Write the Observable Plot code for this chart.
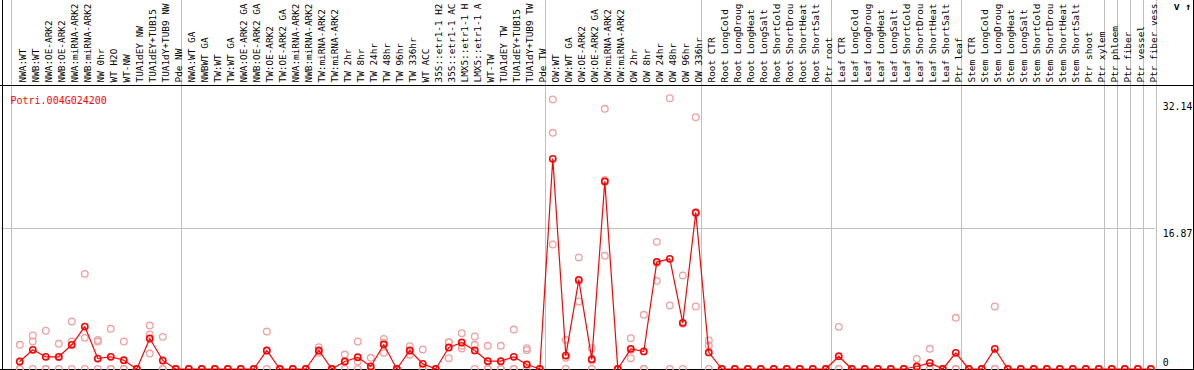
<!DOCTYPE html>
<html>
<head>
<meta charset="utf-8">
<script src="https://cdn.jsdelivr.net/npm/d3@7"></script>
<script src="https://cdn.jsdelivr.net/npm/@observablehq/plot@0.6"></script>
<style>
  html, body { margin: 0; padding: 0; background: #fff; }
  #chart svg { display: block; }
</style>
</head>
<body>
<div id="chart"></div>
<script>
// ---- data ----
const geneId = "Potri.004G024200";

// sample labels as displayed (cut to 14 characters in the reference)
const sampleLabels = [
  "NWA:WT", "NWB:WT", "NWA:OE-ARK2", "NWB:OE-ARK2", "NWA:miRNA-ARK2", "NWB:miRNA-ARK2",
  "NW 0hr", "WT H2O", "WT-NW", "TUA1dEY NW", "TUA1dEY+TUB15", "TUA1dY+TUB9 NW", "Pde NW",
  "NWA:WT GA", "NWBWT GA", "TW:WT", "TW:WT GA", "NWA:OE-ARK2 GA", "NWB:OE-ARK2 GA",
  "TW:OE-ARK2", "TW:OE-ARK2 GA", "NWA:miRNA-ARK2", "NWB:miRNA-ARK2", "TW:miRNA-ARK2",
  "TW:miRNA-ARK2", "TW 2hr", "TW 8hr", "TW 24hr", "TW 48hr", "TW 96hr", "TW 336hr", "WT ACC",
  "35S::etr1-1 H2", "35S::etr1-1 AC", "LMX5::etr1-1 H", "LMX5::etr1-1 A", "WT-TW",
  "TUA1dEY TW", "TUA1dEY+TUB15", "TUA1dY+TUB9 TW", "Pde TW",
  "OW:WT", "OW:WT GA", "OW:OE-ARK2", "OW:OE-ARK2 GA", "OW:miRNA-ARK2", "OW:miRNA-ARK2",
  "OW 2hr", "OW 8hr", "OW 24hr", "OW 48hr", "OW 96hr", "OW 336hr",
  "Root CTR", "Root LongCold", "Root LongDroug", "Root LongHeat", "Root LongSalt",
  "Root ShortCold", "Root ShortDrou", "Root ShortHeat", "Root ShortSalt", "Ptr root",
  "Leaf CTR", "Leaf LongCold", "Leaf LongDroug", "Leaf LongHeat", "Leaf LongSalt",
  "Leaf ShortCold", "Leaf ShortDrou", "Leaf ShortHeat", "Leaf ShortSalt", "Ptr leaf",
  "Stem CTR", "Stem LongCold", "Stem LongDroug", "Stem LongHeat", "Stem LongSalt",
  "Stem ShortCold", "Stem ShortDrou", "Stem ShortHeat", "Stem ShortSalt", "Ptr shoot",
  "Ptr xylem", "Ptr phloem", "Ptr fiber", "Ptr vessel", "Ptr fiber vess"
];

// mean expression per sample
const meanValues = [
  0.90, 2.31, 1.47, 1.47, 2.91, 5.11, 1.26, 1.47, 1.06, 0, 3.67, 1.02, 0,
  0, 0, 0, 0, 0, 0, 2.23, 0, 0, 0, 2.23, 0, 0.90, 1.42, 0.30, 2.95, 0, 2.23, 0.62,
  0, 2.59, 3.19, 2.23, 0.94, 0.94, 1.47, 0.54, 0,
  25.29, 1.62, 10.73, 1.18, 22.56, 0, 2.43, 2.11, 12.90, 13.26, 5.56, 18.83,
  1.99, 0, 0, 0, 0, 0, 0, 0, 0, 0,
  1.54, 0, 0, 0, 0, 0, 0.30, 0.74, 0, 1.95,
  0, 0, 2.43, 0, 0, 0, 0, 0, 0, 0, 0,
  0, 0, 0, 0
];

// individual replicates
const replicate1 = [
  2.91, 4.03, 4.60, 3.03, 5.72, 11.45, 3.50, 4.84, 3.31, 0, 5.23, 3.87, 0,
  0, 0, 0, 0, 0, 0, 4.51, 0, 0, 0, 2.62, 0, 1.74, 3.31, 1.35, 3.63, 0, 2.74, 2.35,
  0, 3.23, 4.31, 3.91, 2.79, 2.79, 4.75, 2.50, 0,
  32.43, 3.51, 13.42, 2.50, 31.31, 0, 3.71, 6.52, 15.30, 32.58, 11.25, 30.30,
  3.43, 0, 0, 0, 0, 0, 0, 0, 0, 0,
  5.07, 0, 0, 0, 0, 0, 1.22, 2.43, 0, 6.16,
  0, 0, 7.52, 0, 0, 0, 0, 0, 0, 0, 0,
  0, 0, 0, 0
];
const replicate2 = [
  0, 3.31, 0, 1.40, 3.31, 3.75, 3.30, 0, 0, 0, 4.15, 0, 0,
  0, 0, 0, 0, 0, 0, 2.20, 0, 0, 0, 1.95, 0, 0.90, 0.90, 0, 1.95, 0, 1.70, 0,
  0, 1.30, 2.47, 2.91, 0, 0, 0, 2.27, 0,
  28.42, 1.35, 8.12, 1.00, 13.62, 0, 1.30, 0, 10.61, 7.64, 5.43, 7.52,
  2.83, 0, 0, 0, 0, 0, 0, 0, 0, 0,
  0, 0, 0, 0, 0, 0, 0, 0, 0, 0,
  0, 0, 0, 0, 0, 0, 0, 0, 0, 0, 0,
  0, 0, 0, 0
];
const replicate3 = [
  0, 0, 0, 0, 0, 0, 0, 0, 0, 0, 1.86, 0, 0,
  0, 0, 0, 0, 0, 0, 0, 0, 0, 0, 2.10, 0, 0, 0, 0, 3.20, 0, 2.20, 0,
  0, 3.20, 2.80, 0, 0, 0, 0, 0, 0,
  14.98, 0, 10.60, 0, 22.75, 0, 2.30, 0, 12.80, 0, 0, 18.70,
  0, 0, 0, 0, 0, 0, 0, 0, 0, 0,
  0, 0, 0, 0, 0, 0, 0, 0, 0, 0,
  0, 0, 0, 0, 0, 0, 0, 0, 0, 0, 0,
  0, 0, 0, 0
];

// last sample index of each group (vertical separators)
const groupEnds = [12, 40, 52, 62, 72, 83, 84, 85, 86, 87];
const yTicks = [0, 16.87, 32.14];

// ---- build tables ----
const means = meanValues.map((v, i) => ({i, v}));
const reps = [replicate1, replicate2, replicate3].flatMap(r => r.map((v, i) => ({i, v})));

const MT = 101.4, MB = 1.5, ML = 19.3, MR = 43.7;
const grid = "#c0c0c0";

const chart = Plot.plot({
  width: 1194,
  height: 370,
  marginTop: MT,
  marginBottom: MB,
  marginLeft: ML,
  marginRight: MR,
  x: {domain: [0, sampleLabels.length - 1], axis: null},
  y: {domain: [0, yTicks[yTicks.length - 1]], axis: null},
  style: {fontFamily: "'DejaVu Sans Mono', monospace", background: "white", overflow: "hidden"},
  marks: [
    // grid
    Plot.ruleX(groupEnds, {x: d => d + 0.41, stroke: grid, strokeWidth: 1, insetTop: -MT, insetBottom: -MB, shapeRendering: "crispEdges"}),
    Plot.ruleX([0], {stroke: grid, strokeWidth: 1, dx: -8.6, insetTop: -MT, insetBottom: -MB, shapeRendering: "crispEdges"}),
    Plot.ruleY([yTicks[1]], {stroke: grid, strokeWidth: 1, insetLeft: -ML + 1, insetRight: -5, shapeRendering: "crispEdges"}),
    // frame lines
    Plot.frame({anchor: "left", stroke: "black", insetLeft: -ML + 1.5, insetTop: -MT, insetBottom: -MB, shapeRendering: "crispEdges"}),
    Plot.frame({anchor: "right", stroke: "black", insetRight: -MR + 1.5, insetTop: -MT, insetBottom: -MB, shapeRendering: "crispEdges"}),
    Plot.frame({anchor: "top", stroke: "black", insetTop: -16.4, insetLeft: -ML, insetRight: -MR, shapeRendering: "crispEdges"}),
    Plot.frame({anchor: "bottom", stroke: "black", strokeWidth: 1.5, insetBottom: -0.5, insetLeft: -ML, insetRight: -MR, shapeRendering: "crispEdges"}),
    // replicates
    Plot.dot(reps, {x: "i", y: "v", r: 3.3, stroke: "#f0a0a0", strokeWidth: 1.3}),
    // mean line and points
    Plot.line(means, {x: "i", y: "v", stroke: "#ff0000", strokeWidth: 1.2}),
    Plot.dot(means, {x: "i", y: "v", r: 3.1, stroke: "#ff0000", strokeWidth: 1.6}),
    // sample labels
    Plot.text(sampleLabels, {
      x: (d, i) => i, frameAnchor: "top", dy: -19.4, rotate: -90,
      textAnchor: "start", fontSize: 9.4, fill: "black"
    }),
    // right axis values
    Plot.axisY(yTicks.slice(1), {anchor: "right", tickSize: 0, tickPadding: 12, fontSize: 9.8, dy: 5, tickFormat: d => String(d)}),
    Plot.axisY(yTicks.slice(0, 1), {anchor: "right", tickSize: 0, tickPadding: 12, fontSize: 9.8, dy: -6, tickFormat: d => String(d)}),
    // gene id
    Plot.text([geneId], {frameAnchor: "top-left", dx: -9.3, dy: -5.5, textAnchor: "start", fill: "#ff0000", fontSize: 10})
  ]
});
document.getElementById("chart").appendChild(chart);
</script>
</body>
</html>
